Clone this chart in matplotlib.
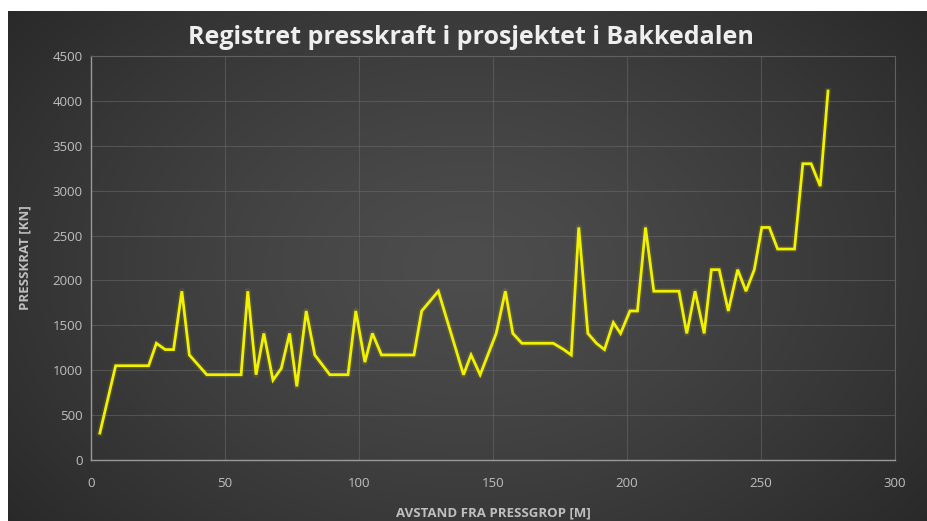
import numpy as np
import matplotlib
matplotlib.use("Agg")
import matplotlib.pyplot as plt
import matplotlib.patheffects as pe

# Data
distance_m = [3.3, 9.2, 21.5, 24.4, 27.7, 30.8, 33.9, 36.7, 43.2, 56.0, 58.5, 61.6,
              64.5, 67.9, 71.0, 74.1, 76.8, 80.3, 83.5, 89.1, 95.9, 98.8, 102.2, 105.0,
              108.4, 120.5, 123.4, 129.6, 139.0, 141.8, 145.2, 151.2, 154.6, 157.4, 160.8,
              172.5, 176.4, 179.2, 182.0, 185.4, 188.6, 191.6, 194.9, 197.6, 201.1, 203.9,
              206.9, 210.0, 219.4, 222.3, 225.4, 228.8, 231.5, 234.4, 237.8, 241.3, 244.4,
              247.5, 250.3, 253.1, 256.2, 262.5, 265.6, 268.7, 272.1, 275.0]
force_kn = [300, 1050, 1050, 1300, 1230, 1230, 1880, 1170, 950, 950, 1880, 950,
            1410, 890, 1020, 1410, 820, 1660, 1170, 950, 950, 1660, 1090, 1410,
            1170, 1170, 1660, 1880, 950, 1170, 950, 1410, 1880, 1410, 1300,
            1300, 1230, 1170, 2590, 1410, 1300, 1230, 1530, 1410, 1660, 1660,
            2590, 1880, 1880, 1410, 1880, 1410, 2120, 2120, 1660, 2120, 1880,
            2120, 2590, 2590, 2350, 2350, 3300, 3300, 3050, 4110]

x_ticks = [0, 50, 100, 150, 200, 250, 300]
y_ticks = [0, 500, 1000, 1500, 2000, 2500, 3000, 3500, 4000, 4500]
title = "Registret presskraft i prosjektet i Bakkedalen"
x_label = "AVSTAND FRA PRESSGROP [M]"
y_label = "PRESSKRAT [KN]"

W, H = 928, 521
fig = plt.figure(figsize=(W / 100, H / 100), dpi=100, facecolor="white")

# Radial gradient background
bg = fig.add_axes([8 / W, 0, (W - 8) / W, (H - 11) / H])
bg.set_axis_off()
gx = np.linspace(-1, 1, 400)
gy = np.linspace(-1, 1, 240)
GX, GY = np.meshgrid(gx, gy)
r = np.sqrt((GX * 0.95) ** 2 + (GY * 0.75) ** 2)
r = np.clip(r, 0, 1.3)
inner = np.array([0x4d, 0x4d, 0x4d]) / 255
outer = np.array([0x26, 0x26, 0x26]) / 255
t = (r / 1.3) ** 1.3
img = inner[None, None, :] * (1 - t[..., None]) + outer[None, None, :] * t[..., None]
bg.imshow(img, aspect="auto", extent=[0, 1, 0, 1], interpolation="bilinear")
bg.set_xlim(0, 1)
bg.set_ylim(0, 1)

font = ["Open Sans", "DejaVu Sans"]
tick_col = "#bfbfbf"

ax = fig.add_axes([91 / W, 1 - 460 / H, (895 - 91) / W, (460 - 56) / H])
ax.set_facecolor("none")
ax.plot(distance_m, force_kn, color="#f2f200", lw=2.0, solid_joinstyle="miter",
        path_effects=[pe.Stroke(linewidth=4.5, foreground="#f2f200", alpha=0.10,
                                joinstyle="round"),
                      pe.Normal()], zorder=3)
ax.set_xlim(0, 300)
ax.set_ylim(0, 4500)
ax.set_xticks(x_ticks)
ax.set_yticks(y_ticks)
ax.grid(True, color="#666666", lw=0.8, alpha=0.6)
ax.set_axisbelow(True)
for s in ["top", "right"]:
    ax.spines[s].set_color("#606060")
    ax.spines[s].set_linewidth(0.8)
for s in ["left", "bottom"]:
    ax.spines[s].set_color("#999999")
    ax.spines[s].set_linewidth(1.0)
ax.tick_params(length=0, colors=tick_col, labelsize=9.5, pad=6)
ax.tick_params(axis="x", pad=12)
for lbl in ax.get_xticklabels() + ax.get_yticklabels():
    lbl.set_family(font)

ax.set_xlabel(x_label, color=tick_col, fontsize=9.5, fontweight="bold", family=font, labelpad=12)
ax.set_ylabel(y_label, color=tick_col, fontsize=9.5, fontweight="bold", family=font, labelpad=15)

fig.text(471 / W, 1 - 37 / H, title, ha="center", va="center", color="#eeeeee",
         fontsize=18, fontweight="bold", family=font)

fig.savefig("out.png", dpi=100, facecolor="white")
